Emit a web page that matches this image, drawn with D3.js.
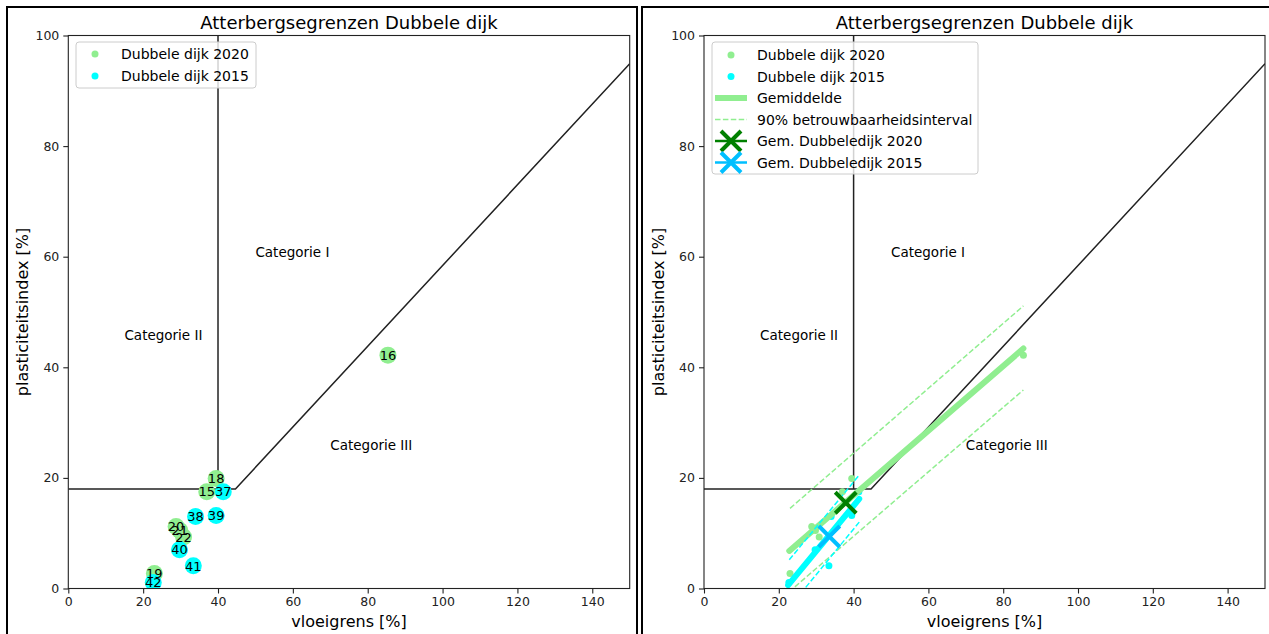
<!DOCTYPE html>
<html><head><meta charset="utf-8">
<script src="https://cdn.jsdelivr.net/npm/d3@7"></script>
<style>html,body{margin:0;padding:0;background:#fff;}svg{display:block;font-family:"DejaVu Sans",sans-serif;}</style>
</head><body>
<script>
// ---- data ----
const ids2020 = [15, 16, 18, 19, 20, 21, 22];
const ll2020 = [37, 85.4, 39.5, 23, 28.8, 29.8, 30.8];
const pi2020 = [17.5, 42.2, 19.9, 2.7, 11.2, 10.5, 9.3];
const ids2015 = [37, 38, 39, 40, 41, 42];
const ll2015 = [41.4, 34, 39.5, 29.7, 33.4, 22.7];
const pi2015 = [17.5, 13, 13.2, 7, 4.1, 1.1];
const mean2020 = [[22.8, 6.8], [85.4, 43.4]];
const upper2020 = [[23, 14.5], [85.4, 51.1]];
const lower2020 = [[24.3, 0.3], [85.4, 35.9]];
const mean2015 = [[22.5, 0.6], [41.5, 16.2]];
const upper2015 = [[22.8, 5.2], [41.5, 20.5]];
const lower2015 = [[27.2, 0.2], [41.5, 12.0]];
const gem2020 = [37.9, 15.5];
const gem2015 = [33.5, 9.4];
const borderLine = [[0, 18], [44.66, 18], [150, 94.9]];
const verticalLine = [[40, 18], [40, 100]];
const catLabels = ["Categorie I", "Categorie II", "Categorie III"];
const catPos = [[50, 60], [15, 45], [70, 25]];
const xTicks = [0, 20, 40, 60, 80, 100, 120, 140];
const yTicks = [0, 20, 40, 60, 80, 100];
const title = "Atterbergsegrenzen Dubbele dijk";
const xLabel = "vloeigrens [%]";
const yLabel = "plasticiteitsindex [%]";

const W = 1269, H = 634;
const svg = d3.select("body").append("svg").attr("width", W).attr("height", H);

// panel frames
svg.append("rect").attr("x", 7).attr("y", 7).attr("width", 630).attr("height", 700)
  .attr("fill", "none").attr("stroke", "#000").attr("stroke-width", 2);
svg.append("rect").attr("x", 642).attr("y", 7).attr("width", 700).attr("height", 700)
  .attr("fill", "none").attr("stroke", "#000").attr("stroke-width", 2);

function panel(x0, x1, right) {
  const yTop = 35.5, yBot = 588.5;
  const x = d3.scaleLinear().domain([0, 150]).range([x0, x1]);
  const y = d3.scaleLinear().domain([0, 100]).range([yBot, yTop]);
  const g = svg.append("g");
  const clipId = "clip" + (right ? "R" : "L");
  g.append("clipPath").attr("id", clipId).append("rect")
    .attr("x", x0).attr("y", yTop).attr("width", x1 - x0).attr("height", yBot - yTop);
  const pg = g.append("g").attr("clip-path", `url(#${clipId})`);
  const line = d3.line().x(d => x(d[0])).y(d => y(d[1]));

  pg.append("path").attr("d", line(borderLine)).attr("fill", "none").attr("stroke", "#222").attr("stroke-width", 1.5);
  pg.append("path").attr("d", line(verticalLine)).attr("fill", "none").attr("stroke", "#222").attr("stroke-width", 1.5);

  catLabels.forEach((t, i) => {
    pg.append("text").attr("x", x(catPos[i][0])).attr("y", y(catPos[i][1]))
      .attr("font-size", 13.5).attr("fill", "#000").text(t);
  });

  const d20 = ids2020.map((id, i) => ({id, x: ll2020[i], y: pi2020[i]}));
  const d15 = ids2015.map((id, i) => ({id, x: ll2015[i], y: pi2015[i]}));

  if (!right) {
    pg.selectAll(null).data(d20).enter().append("circle")
      .attr("cx", d => x(d.x)).attr("cy", d => y(d.y)).attr("r", 8.5).attr("fill", "#90EE90");
    pg.selectAll(null).data(d15).enter().append("circle")
      .attr("cx", d => x(d.x)).attr("cy", d => y(d.y)).attr("r", 8.5).attr("fill", "#00FFFF");
    pg.selectAll(null).data(d20.concat(d15)).enter().append("text")
      .attr("x", d => x(d.x)).attr("y", d => y(d.y)).attr("dy", "0.36em")
      .attr("text-anchor", "middle").attr("font-size", 13).attr("fill", "#000").text(d => d.id);
  } else {
    pg.selectAll(null).data(d20).enter().append("circle")
      .attr("cx", d => x(d.x)).attr("cy", d => y(d.y)).attr("r", 3.5).attr("fill", "#90EE90");
    pg.selectAll(null).data(d15).enter().append("circle")
      .attr("cx", d => x(d.x)).attr("cy", d => y(d.y)).attr("r", 3.5).attr("fill", "#00FFFF");
    pg.append("path").attr("d", line(mean2020)).attr("fill", "none").attr("stroke", "#90EE90").attr("stroke-width", 6).attr("stroke-linecap", "round");
    pg.append("path").attr("d", line(mean2015)).attr("fill", "none").attr("stroke", "#00FFFF").attr("stroke-width", 6).attr("stroke-linecap", "round");
    [[upper2020, "#90EE90"], [lower2020, "#90EE90"], [upper2015, "#00FFFF"], [lower2015, "#00FFFF"]].forEach(([d, c]) => {
      pg.append("path").attr("d", line(d)).attr("fill", "none").attr("stroke", c)
        .attr("stroke-width", 1.5).attr("stroke-dasharray", "5.5,2.4");
    });
    const cross = (cx, cy, s, c, w) => {
      pg.append("path").attr("d", `M${cx - s},${cy - s}L${cx + s},${cy + s}M${cx - s},${cy + s}L${cx + s},${cy - s}`)
        .attr("stroke", c).attr("stroke-width", w).attr("fill", "none");
    };
    cross(x(gem2020[0]), y(gem2020[1]), 10.5, "#008000", 4);
    cross(x(gem2015[0]), y(gem2015[1]), 10.5, "#00BFFF", 4);
  }

  // axes
  const ax = g.append("g").attr("transform", `translate(0,${yBot})`)
    .call(d3.axisBottom(x).tickValues(xTicks).tickSize(5).tickPadding(4).tickFormat(d3.format("d")));
  const ay = g.append("g").attr("transform", `translate(${x0},0)`)
    .call(d3.axisLeft(y).tickValues(yTicks).tickSize(5).tickPadding(4).tickFormat(d3.format("d")));
  [ax, ay].forEach(a => {
    a.select(".domain").remove();
    a.selectAll("line").attr("stroke", "#222").attr("stroke-width", 1.1);
    a.selectAll("text").attr("font-size", 12.5).attr("fill", "#222").attr("font-family", "DejaVu Sans");
  });
  g.append("rect").attr("x", x0).attr("y", yTop).attr("width", x1 - x0).attr("height", yBot - yTop)
    .attr("fill", "none").attr("stroke", "#222").attr("stroke-width", 1.1);

  g.append("text").attr("x", (x0 + x1) / 2).attr("y", 29).attr("text-anchor", "middle")
    .attr("font-size", 18).attr("fill", "#000").text(title);
  g.append("text").attr("x", (x0 + x1) / 2).attr("y", 627).attr("text-anchor", "middle")
    .attr("font-size", 16).attr("fill", "#000").text(xLabel);
  g.append("text").attr("transform", `translate(${x0 - 40},${(yTop + yBot) / 2}) rotate(-90)`)
    .attr("text-anchor", "middle").attr("font-size", 16).attr("fill", "#000").text(yLabel);

  // legend
  const lg = g.append("g");
  if (!right) {
    lg.append("rect").attr("x", 76).attr("y", 42).attr("width", 180).attr("height", 46).attr("rx", 3)
      .attr("fill", "#fff").attr("fill-opacity", 0.8).attr("stroke", "#ccc");
    const items = [["Dubbele dijk 2020", "#90EE90"], ["Dubbele dijk 2015", "#00FFFF"]];
    items.forEach((it, i) => {
      const cy = 54 + i * 22;
      lg.append("circle").attr("cx", 95).attr("cy", cy).attr("r", 3.5).attr("fill", it[1]);
      lg.append("text").attr("x", 121).attr("y", cy).attr("dy", "0.36em").attr("font-size", 14).attr("fill", "#000").text(it[0]);
    });
  } else {
    lg.append("rect").attr("x", 712).attr("y", 42).attr("width", 266).attr("height", 132).attr("rx", 3)
      .attr("fill", "#fff").attr("fill-opacity", 0.8).attr("stroke", "#ccc");
    const labels = ["Dubbele dijk 2020", "Dubbele dijk 2015", "Gemiddelde", "90% betrouwbaarheidsinterval", "Gem. Dubbeledijk 2020", "Gem. Dubbeledijk 2015"];
    labels.forEach((t, i) => {
      const cy = 55 + i * 21.5;
      if (i === 0) lg.append("circle").attr("cx", 731).attr("cy", cy).attr("r", 3.5).attr("fill", "#90EE90");
      if (i === 1) lg.append("circle").attr("cx", 731).attr("cy", cy).attr("r", 3.5).attr("fill", "#00FFFF");
      if (i === 2) lg.append("line").attr("x1", 715).attr("x2", 747).attr("y1", cy).attr("y2", cy).attr("stroke", "#90EE90").attr("stroke-width", 6);
      if (i === 3) lg.append("line").attr("x1", 715).attr("x2", 747).attr("y1", cy).attr("y2", cy).attr("stroke", "#90EE90").attr("stroke-width", 1.5).attr("stroke-dasharray", "5.5,2.4");
      if (i >= 4) {
        const c = i === 4 ? "#008000" : "#00BFFF";
        lg.append("line").attr("x1", 715).attr("x2", 747).attr("y1", cy).attr("y2", cy).attr("stroke", c).attr("stroke-width", 2.5);
        lg.append("path").attr("d", `M${731 - 10},${cy - 10}L${731 + 10},${cy + 10}M${731 - 10},${cy + 10}L${731 + 10},${cy - 10}`)
          .attr("stroke", c).attr("stroke-width", 4);
      }
      lg.append("text").attr("x", 757).attr("y", cy).attr("dy", "0.36em").attr("font-size", 14).attr("fill", "#000").text(t);
    });
  }
}
panel(68.3, 629.7, false);
panel(704, 1265, true);
</script>
</body></html>
